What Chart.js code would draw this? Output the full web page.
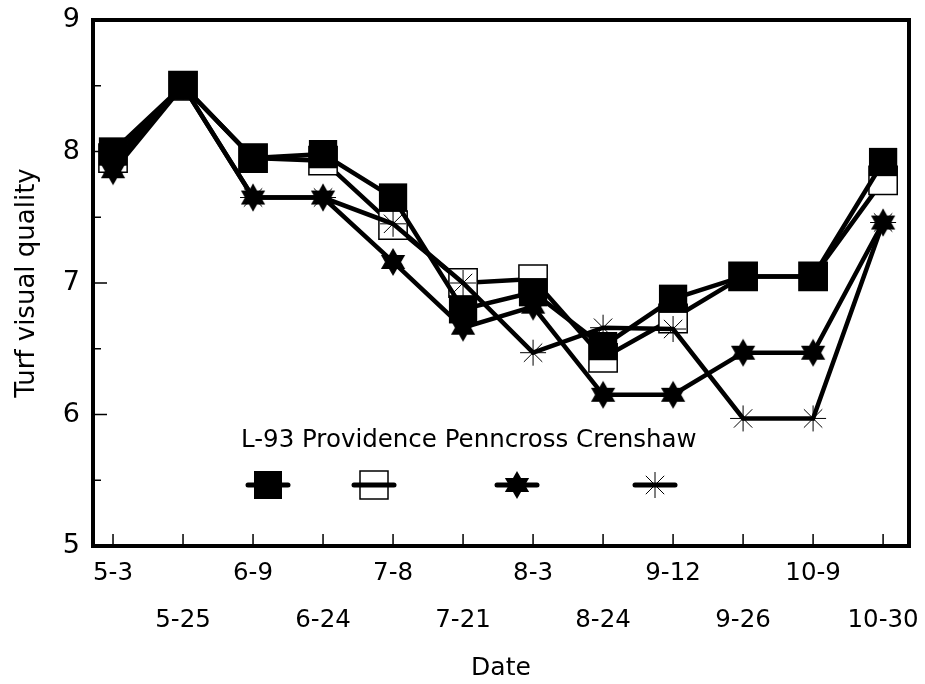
<!DOCTYPE html>
<html>
<head>
<meta charset="utf-8">
<script src="https://cdn.jsdelivr.net/npm/chart.js@4.4.0/dist/chart.umd.min.js"></script>
<style>
  html, body { margin: 0; padding: 0; background: #fff; }
  #wrap { width: 925px; height: 684px; }
</style>
</head>
<body>
<div id="wrap"><canvas id="grafico" width="925" height="684"></canvas></div>
<script>
// --- DATA ---
const fechas = ["5-3", "5-25", "6-9", "6-24", "7-8", "7-21", "8-3", "8-24", "9-12", "9-26", "10-9", "10-30"];
const l93 = [8.0, 8.5, 7.95, 7.98, 7.65, 6.8, 6.93, 6.52, 6.88, 7.05, 7.05, 7.92];
const providence = [7.95, 8.5, 7.95, 7.93, 7.44, 7.0, 7.03, 6.43, 6.73, 7.05, 7.05, 7.78];
const penncross = [7.85, 8.5, 7.65, 7.65, 7.16, 6.66, 6.82, 6.15, 6.15, 6.47, 6.47, 7.46];
const crenshaw = [7.9, 8.5, 7.65, 7.65, 7.45, 7.0, 6.47, 6.66, 6.65, 5.97, 5.97, 7.46];
const yTicks = [5, 6, 7, 8, 9];

const FONT = "'DejaVu Sans', 'Liberation Sans', Arial, sans-serif";

// six-pointed filled star for Penncross
function hexagrama(r) {
  const s = Math.ceil(2 * r + 2);
  const c = document.createElement('canvas');
  c.width = s; c.height = s;
  const g = c.getContext('2d');
  g.fillStyle = '#000';
  [-90, 90].forEach(a0 => {
    g.beginPath();
    for (let k = 0; k < 3; k++) {
      const a = (a0 + k * 120) * Math.PI / 180;
      const x = s / 2 + r * Math.cos(a), y = s / 2 + r * Math.sin(a);
      if (k === 0) g.moveTo(x, y); else g.lineTo(x, y);
    }
    g.closePath();
    g.fill();
  });
  return c;
}
const estrella = hexagrama(14);

function puntos(vals) {
  return vals.map((v, i) => ({ x: i, y: v }));
}

// --- inward ticks + frame ---
const marco = {
  id: 'marco',
  afterDatasetsDraw(chart) {
    const { ctx, chartArea: a, scales: { x, y } } = chart;
    ctx.save();
    ctx.strokeStyle = '#000';
    ctx.lineWidth = 1.5;
    ctx.beginPath();
    fechas.forEach((f, i) => {
      const px = x.getPixelForValue(i);
      ctx.moveTo(px, a.bottom); ctx.lineTo(px, a.bottom - 12);
    });
    for (let v = 5; v <= 9; v += 0.5) {
      const py = y.getPixelForValue(v);
      const len = Number.isInteger(v) ? 14 : 8;
      ctx.moveTo(a.left, py); ctx.lineTo(a.left + len, py);
    }
    ctx.stroke();
    ctx.lineWidth = 4;
    ctx.strokeRect(a.left, a.top, a.right - a.left, a.bottom - a.top);
    ctx.restore();
  }
};

// --- legend inside plot ---
const leyenda = {
  id: 'leyenda',
  afterDatasetsDraw(chart) {
    const ctx = chart.ctx;
    ctx.save();
    ctx.fillStyle = '#000';
    ctx.strokeStyle = '#000';
    ctx.font = '24.5px ' + FONT;
    ctx.textAlign = 'left';
    ctx.textBaseline = 'middle';
    ctx.fillText('L-93 Providence Penncross Crenshaw', 241, 441);
    const yy = 485;
    const xs = [268, 374, 517, 655];
    xs.forEach((cx, k) => {
      ctx.lineWidth = 5;
      ctx.lineCap = 'round';
      ctx.beginPath(); ctx.moveTo(cx - 20, yy); ctx.lineTo(cx + 20, yy); ctx.stroke();
      ctx.lineCap = 'butt';
      if (k === 0) {
        ctx.fillRect(cx - 14, yy - 14, 28, 28);
      } else if (k === 1) {
        ctx.lineWidth = 1.5;
        ctx.strokeRect(cx - 14, yy - 14, 28, 28);
      } else if (k === 2) {
        ctx.drawImage(estrella, cx - estrella.width / 2, yy - estrella.height / 2);
      } else {
        ctx.lineWidth = 1;
        ctx.beginPath();
        for (let a = 0; a < 180; a += 45) {
          const dx = 13 * Math.cos(a * Math.PI / 180), dy = 13 * Math.sin(a * Math.PI / 180);
          ctx.moveTo(cx - dx, yy - dy); ctx.lineTo(cx + dx, yy + dy);
        }
        ctx.stroke();
      }
    });
    ctx.restore();
  }
};

const base = {
  borderColor: '#000',
  borderWidth: 4.5,
  pointBorderColor: '#000',
  tension: 0,
  fill: false
};

new Chart(document.getElementById('grafico'), {
  type: 'line',
  data: {
    datasets: [
      Object.assign({}, base, {
        label: 'L-93', data: puntos(l93), order: 1,
        pointStyle: 'rect', pointRadius: 20, pointBackgroundColor: '#000', pointBorderWidth: 0
      }),
      Object.assign({}, base, {
        label: 'Providence', data: puntos(providence), order: 4,
        pointStyle: 'rect', pointRadius: 20, pointBackgroundColor: '#fff', pointBorderWidth: 1.5
      }),
      Object.assign({}, base, {
        label: 'Penncross', data: puntos(penncross), order: 2,
        pointStyle: estrella, pointRadius: 14
      }),
      Object.assign({}, base, {
        label: 'Crenshaw', data: puntos(crenshaw), order: 3,
        pointStyle: 'star', pointRadius: 13, pointBorderWidth: 1
      })
    ]
  },
  options: {
    responsive: false,
    animation: false,
    layout: { autoPadding: false, padding: { top: 20, right: 16, left: 0, bottom: 0 } },
    plugins: { legend: { display: false }, tooltip: { enabled: false } },
    scales: {
      x: {
        type: 'linear',
        min: -0.286,
        max: 11.37,
        grid: { display: false, drawTicks: false },
        border: { display: false },
        afterBuildTicks: (s) => { s.ticks = fechas.map((f, i) => ({ value: i })); },
        afterFit: (s) => { s.height = 138; s.paddingLeft = 0; s.paddingRight = 0; },
        ticks: {
          autoSkip: false,
          maxRotation: 0,
          padding: 4,
          color: '#000',
          font: { family: FONT, size: 24.5, lineHeight: 1.92 },
          callback: (v) => {
            const i = Math.round(v);
            return i % 2 === 0 ? [fechas[i], ''] : ['', fechas[i]];
          }
        },
        title: {
          display: true, text: 'Date', color: '#000',
          font: { family: FONT, size: 25 }, padding: { top: 0, bottom: 1 }
        }
      },
      y: {
        min: 5,
        max: 9,
        grid: { display: false, drawTicks: false },
        border: { display: false },
        afterBuildTicks: (s) => { s.ticks = yTicks.map(v => ({ value: v })); },
        afterFit: (s) => { s.width = 93; s.paddingTop = 0; s.paddingBottom = 0; },
        ticks: {
          padding: 13,
          color: '#000',
          font: { family: FONT, size: 27 }
        },
        title: {
          display: true, text: 'Turf visual quality', color: '#000',
          font: { family: FONT, size: 26 }, padding: { top: 12, bottom: 0 }
        }
      }
    }
  },
  plugins: [marco, leyenda]
});
</script>
</body>
</html>
